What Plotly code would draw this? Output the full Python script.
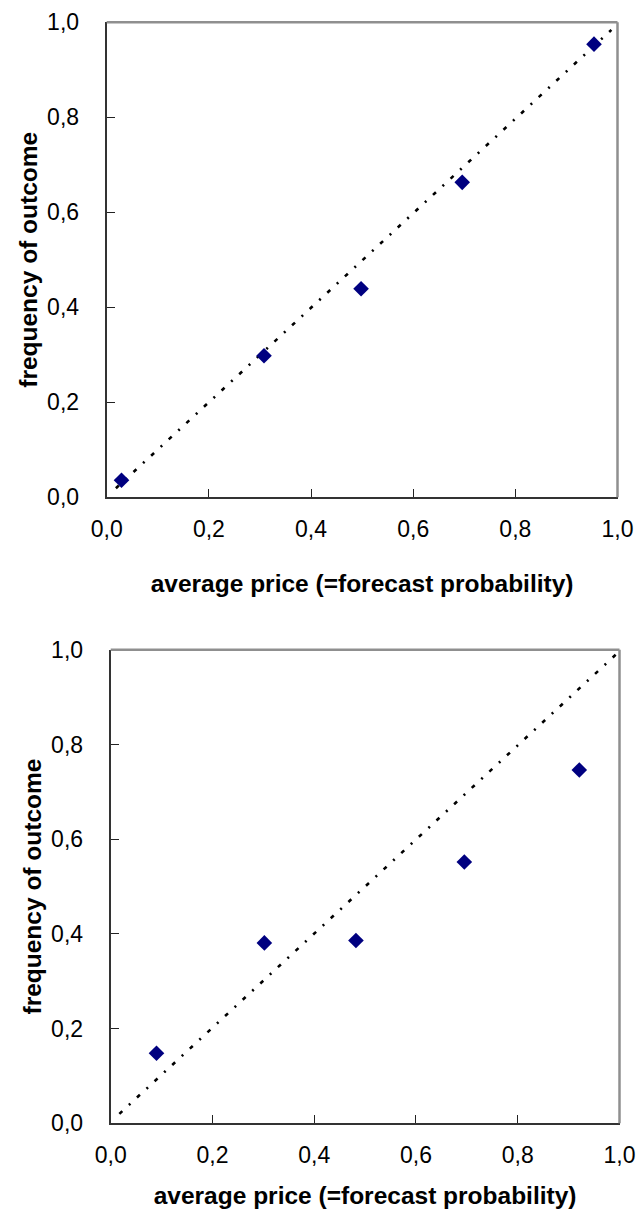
import plotly.graph_objects as go

# ---- data ----
tick_vals = [0.0, 0.2, 0.4, 0.6, 0.8, 1.0]

top_price = [0.029, 0.308, 0.498, 0.696, 0.954]
top_freq = [0.036, 0.298, 0.439, 0.663, 0.954]

bottom_price = [0.090, 0.302, 0.482, 0.695, 0.921]
bottom_freq = [0.148, 0.381, 0.386, 0.552, 0.746]

diag_top_x = [0.018, 0.988]
diag_top_y = [0.019, 0.984]
diag_bottom_x = [0.017, 0.995]
diag_bottom_y = [0.020, 0.992]

x_title = "average price (=forecast probability)"
y_title = "frequency of outcome"

W, H = 640, 1224
FONT = "Liberation Sans, Arial, sans-serif"
NAVY = "#000080"

fig = go.Figure()

for i, (dx, dy, px, py) in enumerate([
    (diag_top_x, diag_top_y, top_price, top_freq),
    (diag_bottom_x, diag_bottom_y, bottom_price, bottom_freq),
]):
    xa = "x" if i == 0 else "x2"
    ya = "y" if i == 0 else "y2"
    fig.add_trace(go.Scatter(
        x=dx, y=dy, mode="lines", xaxis=xa, yaxis=ya,
        line=dict(color="black", width=2.6, dash="4px,9px,2px,9px"),
        showlegend=False, hoverinfo="skip"))
    fig.add_trace(go.Scatter(
        x=px, y=py, mode="markers", xaxis=xa, yaxis=ya,
        marker=dict(symbol="diamond", size=12, color=NAVY,
                    line=dict(width=0)),
        showlegend=False))

def px_dom(a, b):
    return [a / W, b / W]

def py_dom(top, bottom):
    return [1 - bottom / H, 1 - top / H]

top_xdom = px_dom(106.7, 617.5)
top_ydom = py_dom(22.3, 497.3)
bot_xdom = px_dom(110.7, 619.5)
bot_ydom = py_dom(649.8, 1123.3)

def xaxis(dom, anchor, title_standoff):
    return dict(
        domain=dom, anchor=anchor, range=[0, 1], tickvals=tick_vals,
        tickformat=".1f", ticks="inside", ticklen=8, tickwidth=1.3,
        tickcolor="#222", showline=True, linecolor="#333", linewidth=2,
        showgrid=False, zeroline=False, ticklabelstandoff=10,
        automargin=False,
        tickfont=dict(family=FONT, size=23, color="black"),
        title=dict(text=x_title, standoff=title_standoff,
                   font=dict(family=FONT, size=24.5, color="black",
                             weight="bold")),
    )

def yaxis(dom, anchor):
    return dict(
        domain=dom, anchor=anchor, range=[0, 1], tickvals=tick_vals,
        tickformat=".1f", ticks="inside", ticklen=8, tickwidth=1.3,
        tickcolor="#222", showline=True, linecolor="#333", linewidth=2,
        showgrid=False, zeroline=False, ticklabelstandoff=21,
        automargin=False,
        tickfont=dict(family=FONT, size=23, color="black"),
        title=dict(text=y_title, standoff=3,
                   font=dict(family=FONT, size=24.5, color="black",
                             weight="bold")),
    )

fig.update_layout(
    width=W, height=H,
    margin=dict(l=0, r=0, t=0, b=0, autoexpand=False),
    paper_bgcolor="white", plot_bgcolor="white",
    separators=", ",
    xaxis=xaxis(top_xdom, "y", 34),
    yaxis=yaxis(top_ydom, "x"),
    xaxis2=xaxis(bot_xdom, "y2", 20),
    yaxis2=yaxis(bot_ydom, "x2"),
    showlegend=False,
)

# gray top and right frame edges of each plot area
for xr, yr in [("x domain", "y domain"), ("x2 domain", "y2 domain")]:
    fig.add_shape(type="line", xref=xr, yref=yr, x0=0, x1=1, y0=1, y1=1,
                  line=dict(color="#8f8f8f", width=2.5))
    fig.add_shape(type="line", xref=xr, yref=yr, x0=1, x1=1, y0=0, y1=1,
                  line=dict(color="#8f8f8f", width=2.5))

fig.write_html(
    "out.html",
    config={"displayModeBar": False},
    post_script=(
        "document.body.style.margin='0';"
        "document.body.style.overflow='hidden';"
        "document.documentElement.style.overflow='hidden';"
    ),
)
